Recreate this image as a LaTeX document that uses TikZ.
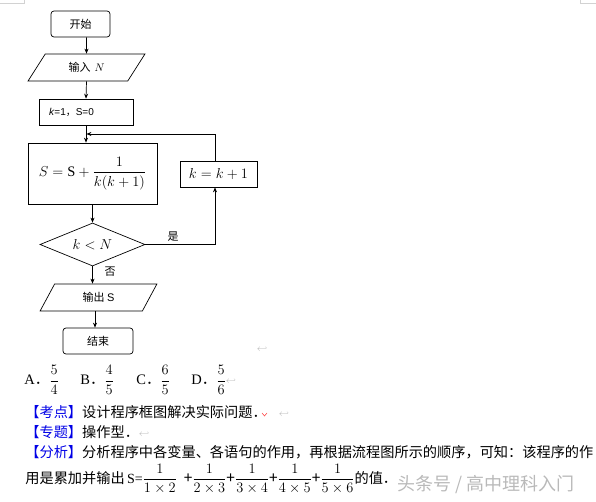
\documentclass[tikz,border=0pt]{standalone}
\usepackage{amsmath}
\usepackage{fontspec}
\setmainfont{Liberation Serif}
\newfontfamily\cjk{Noto Sans CJK SC}
\newfontfamily\sansf{Liberation Sans}
\usetikzlibrary{shapes.geometric,arrows.meta}
\definecolor{kblue}{RGB}{0,0,230}
\definecolor{wm}{RGB}{185,185,185}
\newcommand{\rmk}{{\color{gray!60}\fontsize{9}{9}\selectfont\raisebox{1pt}{$\hookleftarrow$}}}
\tikzset{
  box/.style={draw, minimum width=#1, inner sep=0pt},
  io/.style={draw, trapezium, trapezium stretches=true, inner sep=0pt},
  flow/.style={->, >={Stealth[length=5pt,width=4pt]}},
  fc/.style={font=\cjk\fontsize{11}{12}\selectfont},
  txt/.style={anchor=base west, inner sep=0pt, font=\cjk\fontsize{14.2}{16}\selectfont},
}
\begin{document}
\begin{tikzpicture}[x=1pt,y=-1pt,line width=0.7pt]
\useasboundingbox (0,0) rectangle (596,502);
% page corner marks
\draw[gray!35,line width=0.5pt] (24,0) -- (24,3.5) -- (0,3.5);
\draw[gray!35,line width=0.5pt] (580,0) -- (580,3.5) -- (596,3.5);

% nodes
\node[box=59, minimum height=26, rounded corners=3pt, fc] (start) at (80.5,24) {开始\hspace{12pt}};
\node[io, trapezium left angle=53.5, trapezium right angle=126.5, minimum width=117, minimum height=27, fc] (in) at (86.5,67.5) {输入\hspace{4pt}$N$\hspace{18pt}};
\node[draw, minimum width=94, minimum height=26, inner ysep=0pt, inner xsep=10pt, text width=74pt, align=left, font=\sansf\fontsize{10}{11}\selectfont] (init) at (86,112) {\textit{k}=1{\cjk ，}S=0};
\node[box=129, minimum height=61, font=\fontsize{14.5}{16}\selectfont] (sbox) at (92.5,173.5) {$S=\mathrm{S}+\dfrac{1}{k(k+1)}$};
\node[box=77, minimum height=26, font=\fontsize{14.5}{16}\selectfont] (kbox) at (218.5,174) {$k=k+1$};
\node[draw, diamond, aspect=2.44, minimum width=105, minimum height=43, inner sep=0pt, font=\fontsize{14.5}{16}\selectfont] (dia) at (92.5,244.5) {$k<N$};
\node[io, trapezium left angle=62.6, trapezium right angle=117.4, minimum width=117, minimum height=27, fc] (out) at (98.5,297.5) {输出 {\sansf S}\hspace{14pt}};
\node[box=70, minimum height=26, rounded corners=3pt, fc] (endb) at (98,341) {结束};

\coordinate (j) at (86,134);
\coordinate (rx) at (215,0);
\coordinate (c95) at (95,0);

% connectors
\draw[flow] (start.south -| in) -- (in.north);
\draw[flow] (in.south) -- (init.north);
\draw[flow] (init.south) -- (init.south |- sbox.north);
\draw[flow] (sbox.south) -- (dia.north);
\draw[flow] (dia.east) -- (dia.east -| rx) -- (rx |- kbox.south);
\draw[flow] (rx |- kbox.north) -- (rx |- j) -- ([xshift=0.4pt]j);
\draw[flow] (dia.south) -- (dia.south |- out.north);
\draw[flow] (out.south -| c95) -- (endb.north -| c95);
\node[fc, anchor=center] (yes) at (173,237) {是};
\node[fc, anchor=center] (no) at (110,272) {否};

\node[anchor=center, inner sep=0pt] (rm1) at (262,350) {\rmk};

% answer options
\begin{scope}[every node/.style={anchor=west, inner sep=0pt, font=\fontsize{14.5}{16}\selectfont}]
\node (oa) at (24,380) {A{\cjk．}$\dfrac{5}{4}$};
\node (ob) at (80,380) {B{\cjk．}$\dfrac{4}{5}$};
\node (oc) at (136,380) {C{\cjk．}$\dfrac{6}{5}$};
\node (od) at (191,380) {D{\cjk．}$\dfrac{5}{6}$\rmk};
\end{scope}

\node[txt] (l1) at (25,417) {{\color{kblue}【考点】}设计程序框图解决实际问题．\hspace{12pt}\rmk};
\draw[red!80,line width=0.5pt] (262,413) -- (264.5,416) -- (267,413);
\node[txt] (l2) at (25,437) {{\color{kblue}【专题】}操作型．\rmk};
\node[txt] (l3) at (25,457) {{\color{kblue}【分析】}分析程序中各变量、各语句的作用，再根据流程图所示的顺序，可知：该程序的作};
\node[txt] (l4) at (25,483) {用是累加并输出\,{\fontsize{14}{16}\selectfont\rmfamily S=}{\fontsize{15.5}{17}\selectfont$\dfrac{1}{1\times 2}$\;\,+$\dfrac{1}{2\times 3}$+$\dfrac{1}{3\times 4}$+$\dfrac{1}{4\times 5}$+$\dfrac{1}{5\times 6}$}的值．};
\node[anchor=base west, inner sep=0pt, font=\cjk\fontsize{18}{19}\selectfont, text=wm] (wmk) at (397,490) {头条号 / 高中理科入门};
\end{tikzpicture}
\end{document}
